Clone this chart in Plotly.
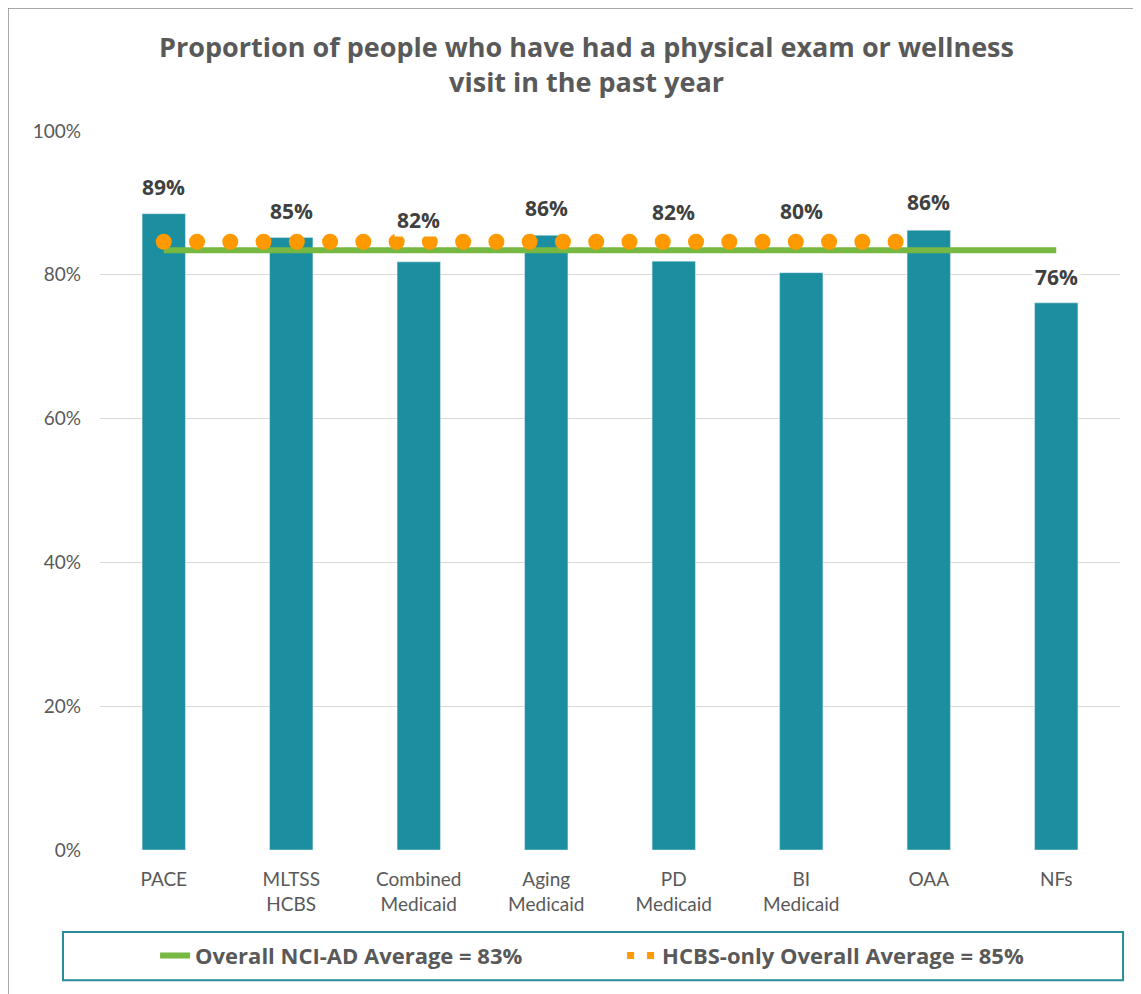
import plotly.graph_objects as go
import numpy as np

categories = ["PACE", "MLTSS<br>HCBS", "Combined<br>Medicaid", "Aging<br>Medicaid",
              "PD<br>Medicaid", "BI<br>Medicaid", "OAA", "NFs"]
values = [88.5, 85.2, 81.8, 85.5, 81.9, 80.3, 86.2, 76.1]
labels = ["89%", "85%", "82%", "86%", "82%", "80%", "86%", "76%"]

overall_avg = 83.4
overall_name = "Overall NCI-AD Average = 83%"
hcbs_avg = 84.6
hcbs_name = "HCBS-only Overall Average = 85%"
# extent of the reference lines along the category axis
overall_span = [0, 7]
hcbs_span = [0, 5.74]

title_text = "Proportion of people who have had a physical exam or wellness<br>visit in the past year"
y_ticks = [0, 20, 40, 60, 80, 100]
y_ticklabels = ["0%", "20%", "40%", "60%", "80%", "100%"]

# label offsets above bar tops (px), as placed in the original
label_shift = [27, 26, 42, 27, 49, 62, 28, 26]

BAR = "#1b8fa0"
GREEN = "#77b843"
ORANGE = "#ff9900"
GRAY = "#595959"
DARK = "#404040"
FONT = "Lato, 'Open Sans', sans-serif"
BOLDFONT = "'Open Sans', sans-serif"

xpos = list(range(len(categories)))

fig = go.Figure()
fig.add_trace(go.Bar(x=xpos, y=values, marker_color=BAR, width=0.34,
                     showlegend=False, hoverinfo="skip"))
fig.add_trace(go.Scatter(x=overall_span, y=[overall_avg] * 2, mode="lines",
                         line=dict(color=GREEN, width=6), name=overall_name,
                         showlegend=True, hoverinfo="skip"))
n_dots = 23
fig.add_trace(go.Scatter(x=np.linspace(hcbs_span[0], hcbs_span[1], n_dots),
                         y=[hcbs_avg] * n_dots, mode="markers",
                         marker=dict(color=ORANGE, size=16, line=dict(width=0)),
                         showlegend=False, hoverinfo="skip"))
# legend entry for dotted line
fig.add_trace(go.Scatter(x=[None], y=[None], mode="lines",
                         line=dict(color=ORANGE, width=7, dash="7px,13px"),
                         name=hcbs_name, showlegend=True))

for xi, v, t, s in zip(xpos, values, labels, label_shift):
    fig.add_annotation(x=xi, y=v, text=t, showarrow=False, yanchor="middle",
                       yshift=s, font=dict(family=BOLDFONT, size=21, color=DARK, weight="bold"),
                       bgcolor="white", borderpad=2)

fig.update_layout(
    width=1133, height=986,
    margin=dict(l=92, r=21, t=123, b=144),
    paper_bgcolor="white", plot_bgcolor="white",
    title=dict(text=title_text, x=0.477, xref="paper", xanchor="center",
               y=0.95, yref="container", yanchor="top",
               font=dict(family=BOLDFONT, size=27, color=GRAY, weight="bold")),
    xaxis=dict(range=[-0.5, 7.5], tickvals=xpos, ticktext=categories,
               showgrid=False, zeroline=False, showline=False, ticks="",
               ticklabelstandoff=16,
               tickfont=dict(family=FONT, size=19, color=GRAY)),
    yaxis=dict(range=[0, 100], tickvals=y_ticks, ticktext=y_ticklabels,
               showgrid=True, gridcolor="#d9d9d9", gridwidth=1.3,
               zeroline=False, showline=False, ticks="",
               ticklabelstandoff=18,
               tickfont=dict(family=FONT, size=19, color=GRAY)),
    showlegend=True,
    legend=dict(orientation="h", x=0.054, xanchor="left", y=-0.147, yanchor="middle",
                bgcolor="rgba(0,0,0,0)", borderwidth=0, entrywidth=422,
                font=dict(family=BOLDFONT, size=22, color=GRAY, weight="bold"),
                itemclick=False, itemdoubleclick=False),
    bargap=0.6,
)
# legend frame
fig.add_shape(type="rect", xref="paper", yref="paper",
              x0=-0.0363, x1=1.003, y0=-0.181, y1=-0.114,
              line=dict(color="#2a8c9a", width=2), fillcolor="rgba(0,0,0,0)")
# outer chart frame
fig.add_shape(type="rect", xref="paper", yref="paper",
              x0=-92 / 1020, x1=1.2, y0=-0.3, y1=1 + 123 / 719,
              line=dict(color="#8c8c8c", width=1.5), fillcolor="rgba(0,0,0,0)")

fig.write_html("out.html")
